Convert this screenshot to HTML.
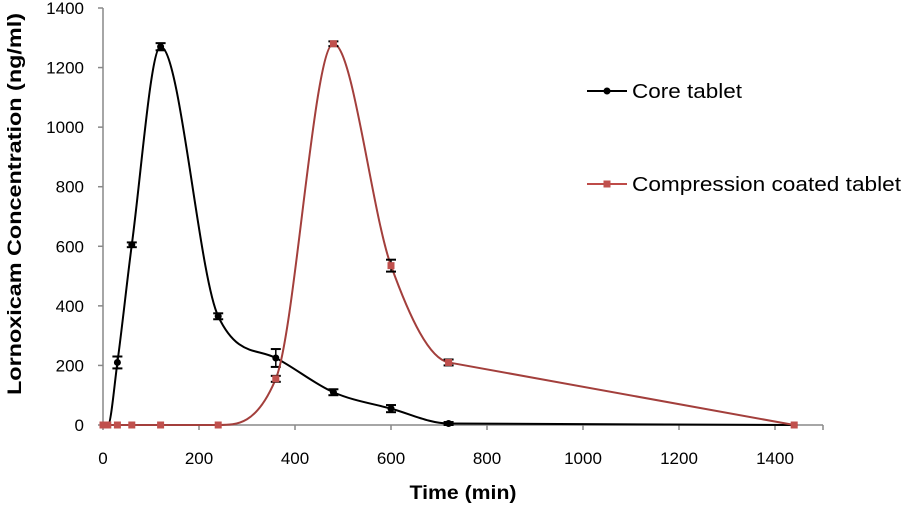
<!DOCTYPE html>
<html><head><meta charset="utf-8"><style>
body{margin:0;background:#fff;}
svg text{font-family:"Liberation Sans",sans-serif;}
</style></head><body>
<svg id="chart" width="903" height="503" xmlns="http://www.w3.org/2000/svg">
<g id="axes"></g><g id="series"></g>
<text x="463" y="499" font-size="19" font-weight="bold" text-anchor="middle" textLength="107" lengthAdjust="spacingAndGlyphs">Time (min)</text>
<text transform="translate(21,204) rotate(-90)" font-size="19" font-weight="bold" text-anchor="middle" textLength="382" lengthAdjust="spacingAndGlyphs">Lornoxicam Concentration (ng/ml)</text>
<g>
<line x1="587" y1="91" x2="627" y2="91" stroke="#000" stroke-width="2"/><circle cx="607" cy="91" r="3.5" fill="#000"/>
<text x="632" y="98" font-size="20" textLength="110" lengthAdjust="spacingAndGlyphs">Core tablet</text>
<line x1="587" y1="184" x2="627" y2="184" stroke="#be4b48" stroke-width="2"/><rect x="603.5" y="180.5" width="7" height="7" fill="#c0504d"/>
<text x="632" y="191" font-size="20" textLength="269" lengthAdjust="spacingAndGlyphs">Compression coated tablet</text>
</g>
</svg>
<script>
const times=[0,10,30,60,120,240,360,480,600,720,1440];
const coreVals=[0,0,210,605,1270,365,225,110,55,5,0];
const coreErr=[0,0,20,8,12,10,30,10,12,5,0];
const coatVals=[0,0,0,0,0,0,155,1280,535,210,0];
const coatErr=[0,0,0,0,0,0,10,8,20,10,0];
const xTicks=[0,200,400,600,800,1000,1200,1400];
const yTicks=[0,200,400,600,800,1000,1200,1400];
const NS="http://www.w3.org/2000/svg";
const X=v=>103+v*0.48, Y=v=>425-v*(417/1400);
function mk(t,a,p){const e=document.createElementNS(NS,t);for(const k in a)e.setAttribute(k,a[k]);p.appendChild(e);return e;}
const ax=document.getElementById('axes'), sr=document.getElementById('series');
const xl=mk('line',{x1:103,y1:425,x2:823,y2:425,stroke:'#888','stroke-width':1.5},ax);


const yl=mk('line',{x1:103,y1:8,x2:103,y2:425,stroke:'#888','stroke-width':1.5},ax);


xTicks.forEach(t=>{mk('line',{x1:X(t),y1:425,x2:X(t),y2:430,stroke:'#888','stroke-width':1.5},ax);
const tx=mk('text',{x:X(t),y:464,'font-size':17,'text-anchor':'middle'},ax);tx.textContent=t;

});
mk('line',{x1:823,y1:425,x2:823,y2:430,stroke:'#888','stroke-width':1.5},ax);
yTicks.forEach(t=>{mk('line',{x1:98,y1:Y(t),x2:103,y2:Y(t),stroke:'#888','stroke-width':1.5},ax);
const tx=mk('text',{x:84,y:Y(t)+6,'font-size':17,'text-anchor':'end'},ax);tx.textContent=t;

});
function monotone(pts){const n=pts.length,d=[],m=[];
for(let i=0;i<n-1;i++)d.push((pts[i+1][1]-pts[i][1])/(pts[i+1][0]-pts[i][0]));
for(let i=0;i<n;i++){if(i==0)m.push(d[0]);else if(i>=n-2)m.push(d[n-2]);
else m.push(d[i-1]*d[i]<=0?0:(d[i-1]+d[i])/2);}
for(let i=0;i<n-2;i++){if(d[i]==0){m[i]=0;m[i+1]=0;continue;}
const a=m[i]/d[i],b=m[i+1]/d[i],s=a*a+b*b;if(s>9){const t=3/Math.sqrt(s);m[i]=t*a*d[i];m[i+1]=t*b*d[i];}}
let p=`M${pts[0][0]},${pts[0][1]}`;
for(let i=0;i<n-1;i++){const h=(pts[i+1][0]-pts[i][0])/3;
p+=` C${pts[i][0]+h},${pts[i][1]+m[i]*h} ${pts[i+1][0]-h},${pts[i+1][1]-m[i+1]*h} ${pts[i+1][0]},${pts[i+1][1]}`;}return p;}
function series(vals,err,col,name,sq){
const pts=times.map((t,i)=>[X(t),Y(vals[i])]);
const p=mk('path',{d:monotone(pts),fill:'none',stroke:col,'stroke-width':2},sr);


times.forEach((t,i)=>{const x=X(t);
if(err[i]>0){const y1=Y(vals[i]+err[i]),y2=Y(vals[i]-err[i]);
mk('line',{x1:x,y1:y1,x2:x,y2:y2,stroke:'#000','stroke-width':1.5},sr);
mk('line',{x1:x-5,y1:y1,x2:x+5,y2:y1,stroke:'#000','stroke-width':2},sr);
mk('line',{x1:x-5,y1:y2,x2:x+5,y2:y2,stroke:'#000','stroke-width':2},sr);}
const m=sq?mk('rect',{x:x-3.5,y:Y(vals[i])-3.5,width:7,height:7,fill:'#c0504d'},sr):mk('circle',{cx:x,cy:Y(vals[i]),r:3.5,fill:'#000'},sr);

});}
series(coreVals,coreErr,'#000','core',false);
series(coatVals,coatErr,'#a33f3c','coated',true);
</script>
</body></html>
